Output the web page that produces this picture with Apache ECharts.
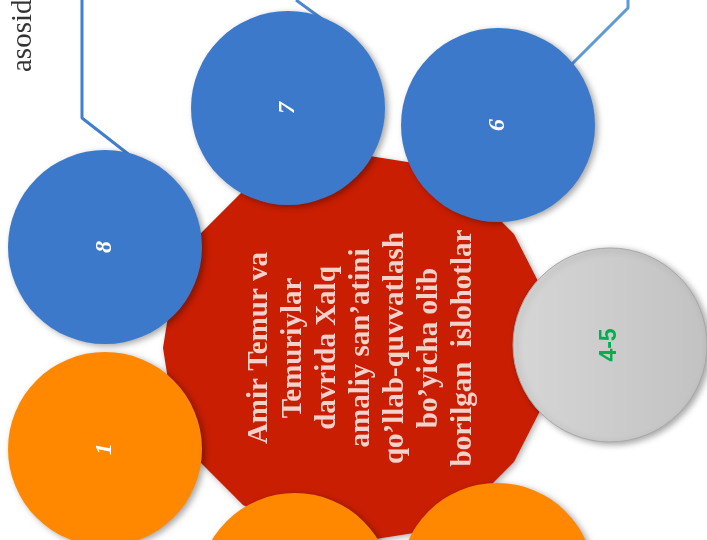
<!DOCTYPE html>
<html>
<head>
<meta charset="utf-8">
<script src="https://cdn.jsdelivr.net/npm/echarts@6/dist/echarts.min.js"></script>
<style>html,body{margin:0;padding:0;background:#fff;}#c{width:707px;height:540px;}</style>
</head>
<body>
<div id="c"></div>
<script>
// ---- data ----
const nodeLabels = ['8', '7', '6', '4-5', '1', '', ''];
const nodeX = [105, 288, 498, 610, 105, 295, 497];
const nodeY = [247, 108, 125, 345, 449, 590, 580];
const nodeGroup = ['blue', 'blue', 'blue', 'gray', 'orange', 'orange', 'orange'];

const centerX = 357;
const centerY = 348;
const centerTextX = 362;
const centerTextY = 348;
const centerLines = [
  'Amir Temur va',
  'Temuriylar',
  'davrida Xalq',
  'amaliy san’atini',
  'qo’llab-quvvatlash',
  'bo’yicha olib',
  'borilgan  islohotlar'
];

const sideText = 'asosid';
const sideX = 23;
const sideY = 72;

const link1 = [[82, 0], [82, 118], [132, 157]];
const link2 = [[296, 0], [340, 32]];
const link3 = [[628, 0], [628, 8], [568, 68]];

// ---- styles ----
const numLabel = { color: '#ffffff', fontFamily: 'Liberation Serif', fontStyle: 'italic', fontWeight: 'bold', fontSize: 24 };
const groupStyle = {
  blue: { color: '#3d79cb', label: numLabel },
  orange: { color: '#ff8800', label: numLabel },
  gray: {
    color: new echarts.graphic.LinearGradient(0, 0, 1, 0, [{ offset: 0, color: '#d6d6d6' }, { offset: 1, color: '#c2c2c2' }]),
    borderColor: '#a9a9a9', borderWidth: 1,
    label: { color: '#00b050', fontFamily: 'Liberation Sans', fontWeight: 'bold', fontSize: 23 }
  }
};

function polygonPath(n) {
  let d = '';
  for (let i = 0; i < n; i++) {
    const a = 2 * Math.PI * i / n;
    d += (i ? 'L' : 'M') + (Math.cos(a) * 100).toFixed(3) + ' ' + (Math.sin(a) * 100).toFixed(3);
  }
  return 'path://' + d + 'Z';
}

const nodeData = nodeX.map((x, i) => {
  const g = groupStyle[nodeGroup[i]];
  return {
    value: [x, nodeY[i]],
    name: nodeLabels[i],
    itemStyle: {
      color: g.color, opacity: 1,
      borderColor: g.borderColor || 'transparent',
      borderWidth: g.borderWidth || 0,
      shadowColor: 'rgba(0,0,0,0.35)', shadowBlur: 6, shadowOffsetX: 3, shadowOffsetY: 2
    },
    label: Object.assign({ show: true, formatter: nodeLabels[i], rotate: 90, position: 'inside' }, g.label)
  };
});

function linkSeries(pts, color) {
  return {
    type: 'line', data: pts, symbol: 'none', clip: false, z: 1, silent: true,
    lineStyle: { color: color, width: 3 }
  };
}

const chart = echarts.init(document.getElementById('c'), null, { renderer: 'canvas' });
chart.setOption({
  animation: false,
  backgroundColor: '#ffffff',
  grid: { left: 0, right: 0, top: 0, bottom: 0 },
  xAxis: { type: 'value', min: 0, max: 707, show: false },
  yAxis: { type: 'value', min: 0, max: 540, inverse: true, show: false },
  series: [
    linkSeries(link1, '#3f7ed0'),
    linkSeries(link2, '#4a88d6'),
    linkSeries(link3, '#5b9bd5'),
    {
      type: 'scatter', z: 2, clip: false, silent: true,
      symbol: polygonPath(20), symbolSize: 388,
      itemStyle: { color: '#c91e02', opacity: 1, shadowColor: 'rgba(0,0,0,0.3)', shadowBlur: 6, shadowOffsetX: 2, shadowOffsetY: 2 },
      data: [[centerX, centerY]]
    },
    {
      type: 'scatter', z: 3, clip: false, silent: true,
      symbol: 'circle', symbolSize: 194,
      data: nodeData
    },
    {
      type: 'scatter', z: 4, clip: false, silent: true,
      symbolSize: 0,
      label: {
        show: true, position: 'inside', rotate: 90,
        formatter: centerLines.join('\n'),
        color: '#ffffff', fontFamily: 'Liberation Serif', fontWeight: 'bold', fontSize: 29, lineHeight: 34,
        align: 'center', verticalAlign: 'middle'
      },
      data: [[centerTextX, centerTextY]]
    },
    {
      type: 'scatter', z: 4, clip: false, silent: true,
      symbolSize: 0,
      label: {
        show: true, position: 'inside', rotate: 90, formatter: sideText,
        align: 'left', verticalAlign: 'middle',
        color: '#000000', fontFamily: 'Liberation Serif', fontSize: 29
      },
      data: [[sideX, sideY]]
    }
  ]
});
</script>
</body>
</html>
